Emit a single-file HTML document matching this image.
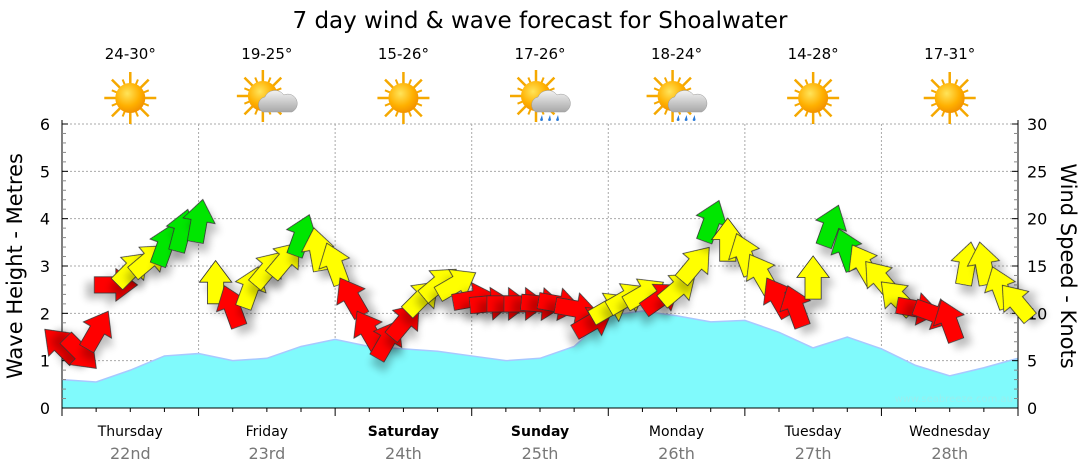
<!DOCTYPE html>
<html><head><meta charset="utf-8">
<style>
html,body{margin:0;padding:0;background:#fff;}
svg{display:block;font-family:"DejaVu Sans","Liberation Sans",Verdana,sans-serif;}
</style></head>
<body>
<svg id="chart" width="1080" height="475" viewBox="0 0 1080 475">
<defs>
<radialGradient id="sunG" cx="0.4" cy="0.35" r="0.7"><stop offset="0" stop-color="#ffe45a"/><stop offset="0.6" stop-color="#ffb000"/><stop offset="1" stop-color="#f08c00"/></radialGradient>
<linearGradient id="cloudG" x1="0" y1="0" x2="0" y2="1"><stop offset="0" stop-color="#f2f2f2"/><stop offset="1" stop-color="#a8a8a8"/></linearGradient>
<filter id="shadow" x="-50%" y="-50%" width="200%" height="200%"><feGaussianBlur in="SourceAlpha" stdDeviation="3"/><feOffset dx="4" dy="6"/><feComponentTransfer><feFuncA type="linear" slope="0.25"/></feComponentTransfer><feMerge><feMergeNode/><feMergeNode in="SourceGraphic"/></feMerge></filter>
</defs>
<text x="540" y="28" text-anchor="middle" font-size="23" fill="#000">7 day wind &amp; wave forecast for Shoalwater</text>
<g id="grid"></g>
<g id="wave"></g>
<g id="axes"></g>
<g id="wind"></g>
<g id="icons"></g>
<text x="1013" y="402" text-anchor="end" font-size="10" fill="#9ee">www.seabreeze.com.au</text>
<text transform="translate(22,266) rotate(-90)" text-anchor="middle" font-size="21" fill="#000">Wave Height - Metres</text>
<text transform="translate(1061,266) rotate(90)" text-anchor="middle" font-size="21" fill="#000">Wind Speed - Knots</text>
</svg>
<script>
const dayNames=["Thursday","Friday","Saturday","Sunday","Monday","Tuesday","Wednesday"];
const dayDates=["22nd","23rd","24th","25th","26th","27th","28th"];
const dayBold=[false,false,true,true,false,false,false];
const temps=["24-30°","19-25°","15-26°","17-26°","18-24°","14-28°","17-31°"];
const icons=["sun","cloud","sun","rain","rain","sun","sun"];
const leftTicks=[0,1,2,3,4,5,6];
const rightTicks=[0,5,10,15,20,25,30];
// wave height every 6 hours (metres)
const waveHeights=[0.6,0.55,0.8,1.1,1.15,1.0,1.05,1.3,1.45,1.3,1.25,1.2,1.1,1.0,1.05,1.3,1.95,2.05,1.95,1.82,1.85,1.6,1.27,1.5,1.25,0.9,0.68,0.85,1.05];
// wind speed every 3 hours (knots)
const windSpeeds=[6.5,6,8,13,14.5,15.5,17,18.5,19.5,13,10.5,12.5,14.5,15.5,18,16.5,15,11.5,8,7,9,11.5,13,13,11.5,11,11,11,11,11,10.5,9,10.5,11.5,12,11.5,12.5,15,19.5,17.5,16,14,11.5,10.5,13.5,19,16.5,15,13.5,11.5,10.5,10,9,15,15,12.5,11];
const windDirs=[-45,135,30,90,45,50,20,15,10,0,-20,20,40,40,20,-10,-20,-30,-30,30,40,45,50,60,80,85,90,90,95,100,100,60,60,60,60,55,50,40,20,0,-20,-30,-30,-20,0,20,-20,-30,-40,-45,100,110,-20,10,-10,-20,-40];
const windColors=["r","r","r","r","y","y","g","g","g","y","r","y","y","y","g","y","y","r","r","r","r","y","y","y","r","r","r","r","r","r","r","r","y","y","y","r","y","y","g","y","y","y","r","r","y","g","g","y","y","y","r","r","r","y","y","y","y"];

const NS="http://www.w3.org/2000/svg";
const X0=62,X1=1018,Y0=408,Y1=124;
const totalH=168;
const xT=h=>X0+(X1-X0)*h/totalH;
const yM=m=>Y0-(Y0-Y1)*m/6;
const yK=k=>Y0-(Y0-Y1)*k/30;
function mk(tag,attrs,parent){const e=document.createElementNS(NS,tag);for(const k in attrs)e.setAttribute(k,attrs[k]);parent.appendChild(e);return e;}
const grid=document.getElementById('grid'),axes=document.getElementById('axes'),wave=document.getElementById('wave'),wind=document.getElementById('wind'),ic=document.getElementById('icons');

leftTicks.forEach(v=>{if(v>0){const l=mk('line',{x1:X0,x2:X1,y1:yM(v),y2:yM(v),stroke:'#aaa','stroke-dasharray':'2,2','stroke-width':1},grid);
}});
for(let d=1;d<7;d++){const l=mk('line',{x1:xT(d*24),x2:xT(d*24),y1:Y1,y2:Y0,stroke:'#aaa','stroke-dasharray':'2,2'},grid);
}

let pts=waveHeights.map((h,i)=>[xT(i*6),yM(h)]);
let d='M'+X0+','+Y0+' ';
pts.forEach(p=>d+='L'+p[0].toFixed(1)+','+p[1].toFixed(1)+' ');
d+='L'+pts[pts.length-1][0]+','+Y0+' Z';
const wa=mk('path',{d:d,fill:'#80fafc',stroke:'none'},wave);

const wl=mk('polyline',{points:pts.map(p=>p.join(',')).join(' '),fill:'none',stroke:'#a8c8ff','stroke-width':1.5},wave);


mk('line',{x1:X0,x2:X0,y1:Y1-4,y2:Y0,stroke:'#000'},axes);
mk('line',{x1:X1,x2:X1,y1:Y1-4,y2:Y0,stroke:'#000'},axes);
mk('line',{x1:X0,x2:X1,y1:Y0,y2:Y0,stroke:'#000'},axes);
for(let m=0;m<=6.001;m+=0.2){const y=yM(m);const major=Math.abs(m-Math.round(m))<0.01;
mk('line',{x1:X0,x2:X0+(major?6:4),y1:y,y2:y,stroke:major?'#000':'#888'},axes);}
for(let k=0;k<=30;k++){const y=yK(k);mk('line',{x1:X1,x2:X1-(k%5==0?6:4),y1:y,y2:y,stroke:k%5==0?'#000':'#888'},axes);}
leftTicks.forEach(v=>{const t=mk('text',{x:50,y:yM(v)+6,'text-anchor':'end','font-size':16,fill:'#000'},axes);t.textContent=v;
});
rightTicks.forEach(v=>{const t=mk('text',{x:1027,y:yK(v)+6,'font-size':16,fill:'#000'},axes);t.textContent=v;
});
for(let h=0;h<=168;h+=6){const x=xT(h);mk('line',{x1:x,x2:x,y1:Y0,y2:Y0+(h%24==0?8:4),stroke:'#000'},axes);}
dayNames.forEach((n,i)=>{const cx=xT(i*24+12);
const t=mk('text',{x:cx,y:436,'text-anchor':'middle','font-size':14,fill:'#000','font-weight':dayBold[i]?'bold':'normal'},axes);t.textContent=n;

const t2=mk('text',{x:cx,y:459,'text-anchor':'middle','font-size':16,fill:'#777'},axes);t2.textContent=dayDates[i];

const t3=mk('text',{x:cx,y:59,'text-anchor':'middle','font-size':15,fill:'#000'},ic);t3.textContent=temps[i];

const g=mk('g',{transform:'translate('+cx+',98)'},ic);

const sx=icons[i]=='sun'?0:-4,sy=icons[i]=='sun'?0:-2;
for(let a=0;a<16;a++){const r=a%2?20:26;const ang=a*Math.PI/8;
mk('line',{x1:sx,y1:sy,x2:sx+Math.sin(ang)*r,y2:sy-Math.cos(ang)*r,stroke:'#f5a800','stroke-width':a%2?2:2.5},g);}
mk('circle',{cx:sx,cy:sy,r:15,fill:'url(#sunG)'},g);
if(icons[i]!='sun'){mk('path',{d:'M-4,14 a8,8 0 0 1 2,-15 a11,11 0 0 1 19,-2 a8,8 0 0 1 8,17 z',fill:'url(#cloudG)',stroke:'#999','stroke-width':0.5},g);}
if(icons[i]=='rain'){[2,10,18].forEach(dx=>mk('path',{d:'M'+dx+',17 l-2,5 a1.6,1.6 0 0 0 3,0 z',fill:'#2a7ad8'},g));}
});

const colMap={r:'#ff0000',y:'#ffff00',g:'#00e600'};
windSpeeds.forEach((k,i)=>{const x=xT(i*3),y=yK(k);
const a=mk('path',{d:'M-6,14 L-6,-2 L-12,-2 L0,-18 L12,-2 L6,-2 L6,14 Z',fill:colMap[windColors[i]],stroke:'#333','stroke-width':0.6,'stroke-linejoin':'miter',
transform:'translate('+x.toFixed(1)+','+y.toFixed(1)+') rotate('+windDirs[i]+') scale(1.35)',filter:'url(#shadow)'},wind);


});
</script>
</body></html>
